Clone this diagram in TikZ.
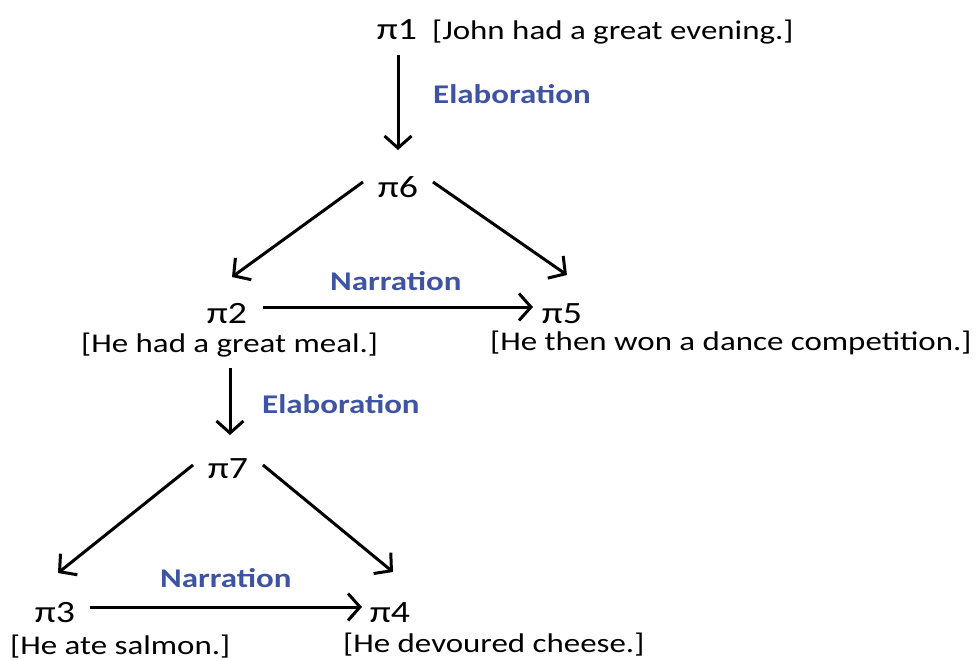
\documentclass[tikz,border=0pt]{standalone}
\usepackage{fontspec}
\setmainfont{Carlito}[FakeStretch=1.22]
\usetikzlibrary{arrows.meta,calc}
\definecolor{relblue}{RGB}{62,84,163}
\begin{document}
\begin{tikzpicture}[x=1pt,y=-1pt,
  unit/.style={font=\fontsize{31}{34}\selectfont, inner sep=0pt, anchor=base},
  gloss/.style={font=\fontsize{27}{31}\selectfont, inner sep=0pt, anchor=base west},
  rel/.style={font=\bfseries\fontsize{27}{31}\selectfont, text=relblue, inner sep=0pt, anchor=base west},
  link/.style={line width=3pt, -{Straight Barb[length=12pt,width=27pt]}}]
\useasboundingbox (0,0) rectangle (978,661);

% discourse units
\node[unit] (p1) at (397,40)  {π1};
\node[unit] (p6) at (398,197) {π6};
\node[unit] (p2) at (227,323) {π2};
\node[unit] (p5) at (562,323) {π5};
\node[unit] (p7) at (228,478) {π7};
\node[unit] (p3) at (55,622)  {π3};
\node[unit] (p4) at (390,622) {π4};

% glosses
\node[gloss] (g1) at (432,40)  {[John had a great evening.]};
\node[gloss] (g2) at (81,352)  {[He had a great meal.]};
\node[gloss] (g5) at (490,350) {[He then won a dance competition.]};
\node[gloss] (g3) at (10,654)  {[He ate salmon.]};
\node[gloss] (g4) at (343,652) {[He devoured cheese.]};

% relation labels
\node[rel] (r1) at (433,103) {Elaboration};
\node[rel] (r2) at (330,290) {Narration};
\node[rel] (r3) at (262,413) {Elaboration};
\node[rel] (r4) at (160,587) {Narration};

% connectors
\draw[link] ($(p1.base)+(1,15)$)    -- ($(p6.base)+(0,-47)$);
\draw[link] ($(p6.base)+(-35,-15)$) -- ($(p2.base)+(5,-46)$);
\draw[link] ($(p6.base)+(35,-15)$)  -- ($(p5.base)+(5,-48)$);
\draw[link] ($(p2.base)+(36,-16)$)  -- ($(p5.base)+(-29,-16)$);
\draw[link] ($(p2.base)+(3,45)$)    -- ($(p7.base)+(2,-43)$);
\draw[link] ($(p7.base)+(-35,-13)$) -- ($(p3.base)+(3,-49)$);
\draw[link] ($(p7.base)+(35,-13)$)  -- ($(p4.base)+(3,-50)$);
\draw[link] ($(p3.base)+(35,-15)$)  -- ($(p4.base)+(-28,-15)$);
\end{tikzpicture}
\end{document}
